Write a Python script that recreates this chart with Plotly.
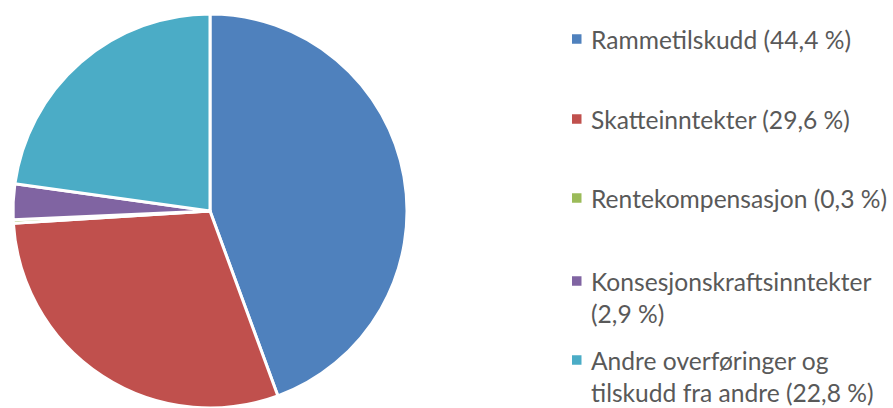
import plotly.graph_objects as go

# ---- data ----
categories = ["Rammetilskudd", "Skatteinntekter", "Rentekompensasjon",
              "Konsesjonskraftsinntekter", "Andre overføringer og tilskudd fra andre"]
shares = [44.4, 29.6, 0.3, 2.9, 22.8]
legend_lines = [
    ["Rammetilskudd (44,4 %)"],
    ["Skatteinntekter (29,6 %)"],
    ["Rentekompensasjon (0,3 %)"],
    ["Konsesjonskraftsinntekter", "(2,9 %)"],
    ["Andre overføringer og", "tilskudd fra andre (22,8 %)"],
]
colors = ["#4F81BD", "#C0504D", "#9BBB59", "#8064A2", "#4BACC6"]

W, H = 893, 408
FONT = "Lato"
TXT = "#595959"

fig = go.Figure(go.Pie(
    labels=categories, values=shares, sort=False, direction="clockwise",
    rotation=0, textinfo="none", hoverinfo="label+percent",
    marker=dict(colors=colors, line=dict(color="white", width=3)),
    domain=dict(x=[0, 420 / W], y=[0, 1 - 14 / H]),
    showlegend=False,
))

# custom legend (squares + text), layout in pixels
row_y = [39, 119, 198, 281, 360]
line_gap = 32
sq_x0, sq_size = 572, 9.5
text_x = 589
shapes, annotations = [], []
for i, lines in enumerate(legend_lines):
    yc = row_y[i]
    shapes.append(dict(type="rect", xref="paper", yref="paper",
                       x0=sq_x0 / W, x1=(sq_x0 + sq_size) / W,
                       y0=1 - (yc - sq_size / 2) / H, y1=1 - (yc + sq_size / 2) / H,
                       fillcolor=colors[i], line=dict(width=0)))
    for j, ln in enumerate(lines):
        annotations.append(dict(text=ln, xref="paper", yref="paper",
                                x=text_x / W, y=1 - (yc + j * line_gap) / H,
                                xanchor="left", yanchor="middle", showarrow=False,
                                font=dict(family=FONT, size=24.6, color=TXT)))

fig.update_layout(
    width=W, height=H, margin=dict(l=0, r=0, t=0, b=0),
    paper_bgcolor="white", plot_bgcolor="white",
    shapes=shapes, annotations=annotations,
)
fig.write_html("out.html", config={"displayModeBar": False})

# remove default page margin so the figure sits at the window's top-left
with open("out.html", encoding="utf-8") as f:
    html = f.read()
html = html.replace("<head>", "<head><style>html,body{margin:0;padding:0;overflow:hidden}</style>", 1)
with open("out.html", "w", encoding="utf-8") as f:
    f.write(html)
